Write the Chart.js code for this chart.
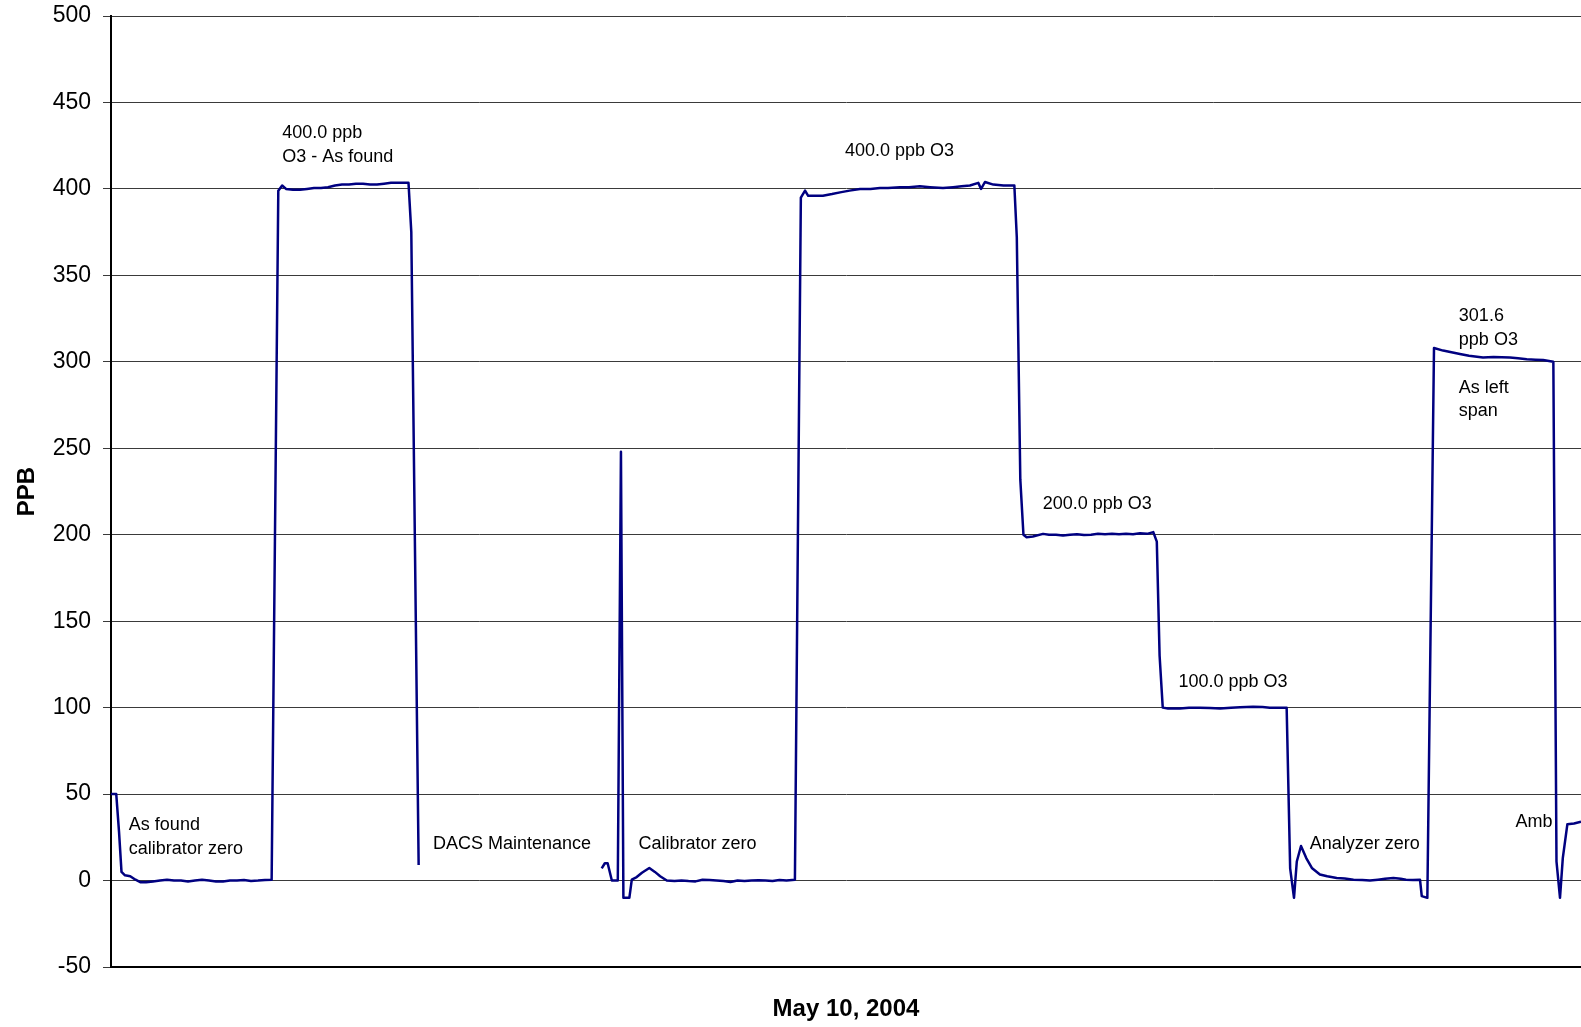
<!DOCTYPE html>
<html>
<head>
<meta charset="utf-8">
<title>PPB - May 10, 2004</title>
<script src="https://cdn.jsdelivr.net/npm/chart.js@4.4.0/dist/chart.umd.min.js"></script>
<style>
  html, body { margin: 0; padding: 0; background: #fff; overflow: hidden; }
  #wrap { width: 1581px; height: 1027px; }
</style>
</head>
<body>
<div id="wrap"><canvas id="myChart" width="1581" height="1027"></canvas></div>
<script>
// Readings from the analyzer, minutes from the start of the plot
const minutes = [
  0, 1.5, 2.3, 3, 4, 5.5, 7, 8.5, 10, 12, 14, 16, 18, 20, 22, 24, 26, 28, 30, 32, 34, 36, 38, 40, 42, 44,
  45.9, 47.8, 48.9, 50, 52, 54, 56, 58, 60, 62, 64, 66, 68, 70, 72, 74, 76, 78, 80, 82, 85, 85.8, 87.9,
  88.5,
  140.2, 141.1, 141.9, 143.1, 144.8, 145.7, 146.4, 148.1, 148.8, 150.2, 151.7, 153.8, 155.4, 156.9, 158.8,
  161, 163, 165, 167, 169, 171, 173, 175, 177, 179, 181, 183, 185, 187, 189, 191, 193,
  195.4, 197.1, 198.3, 199.2, 201, 203.4, 206, 208.3, 211, 214, 217, 219.7, 222, 225.4, 228, 231.1, 234,
  237.7, 240.6, 243, 245.4, 247.8, 248.6, 249.7, 252.1, 255, 258.1, 258.8, 259.8,
  260.7, 261.6, 263.4, 266.3, 268, 270, 272, 274, 276, 278, 280, 282, 284, 286, 288, 290, 292, 294, 296,
  297.8, 298.8, 299.6,
  300.5, 302, 305.4, 308, 311.1, 314, 316.9, 320, 322.6, 326.3, 329, 331.1, 333.5, 335.9,
  336.9, 338, 338.8, 340, 341.5, 343.1, 345.4, 347.5, 350.2, 352.5, 355, 357.5, 359.7, 362, 364, 366.4,
  368.5, 370, 372, 374, 374.5, 376.1,
  378, 380.6, 383, 385.4, 388, 392, 395, 399.7, 402, 404.5, 407, 409.2, 412.1,
  413, 414, 414.8, 416.1, 418, 420
];
const ppb = [
  50, 50, 28, 5, 3, 2.5, 0.5, -1, -1, -0.5, 0, 0.5, 0, 0, -0.5, 0, 0.5, 0, -0.5, -0.5, 0, 0, 0.3, -0.2, 0, 0.3,
  0.5, 399, 402, 400, 399.5, 399.5, 400, 400.5, 400.5, 401, 402, 402.5, 402.5, 403, 403, 402.5, 402.5, 403, 403.5, 403.5, 403.5, 375, 9,
  null,
  7, 10, 10, 0, 0, 248, -10, -10, 0.5, 2, 4.5, 7.3, 5, 2.5, 0,
  -0.3, 0, -0.3, -0.5, 0.5, 0.3, 0, -0.3, -0.8, 0, -0.3, 0, 0.2, 0, -0.2, 0.3, 0,
  0.5, 395, 399, 396, 396, 396, 397, 398, 399, 400, 400, 400.5, 400.5, 401, 401, 401.5, 401,
  400.5, 401, 401.5, 402, 403.5, 400, 404, 402.5, 402, 402, 372, 232,
  200, 198.5, 199, 200.5, 200, 200, 199.5, 200, 200.3, 199.8, 200, 200.5, 200.3, 200.5, 200.3, 200.5, 200.3, 200.8, 200.5,
  201.5, 196, 130,
  100, 99.5, 99.5, 100, 100, 99.8, 99.5, 100, 100.2, 100.5, 100.3, 100, 100, 100,
  7, -10, 11, 20, 13, 7.3, 3.5, 2.5, 1.5, 1.2, 0.5, 0.3, 0, 0.5, 1, 1.5,
  1, 0.5, 0.3, 0.5, -9, -10,
  308, 306.5, 305.5, 304.5, 303.5, 302.5, 302.8, 302.5, 302, 301.5, 301.2, 301, 300,
  11, -10, 13, 32.5, 33, 34
];

// Y axis ticks
const yMin = -50;
const yMax = 500;
const yStep = 50;

// Notes written on the plot: text lines, minute and ppb of the first baseline
const noteText = [
  ['As found', 'calibrator zero'],
  ['400.0 ppb', 'O3 - As found'],
  ['DACS Maintenance'],
  ['Calibrator zero'],
  ['400.0 ppb O3'],
  ['200.0 ppb O3'],
  ['100.0 ppb O3'],
  ['Analyzer zero'],
  ['301.6', 'ppb O3'],
  ['As left', 'span'],
  ['Amb']
];
const noteMinute = [5.1, 48.9, 92, 150.7, 209.7, 266.2, 305, 342.5, 385.1, 385.1, 401.3];
const notePpb = [29.1, 429.3, 18.4, 18.4, 419.3, 215.1, 111.8, 18.4, 323.6, 282.2, 31];

const points = minutes.map((m, i) => ({ x: m, y: ppb[i] }));

const notesPlugin = {
  id: 'notes',
  afterDatasetsDraw(chart) {
    const ctx = chart.ctx;
    const xs = chart.scales.x;
    const ys = chart.scales.y;
    ctx.save();
    ctx.font = '18px "Liberation Sans", Arial, sans-serif';
    ctx.fillStyle = '#000';
    ctx.textAlign = 'left';
    ctx.textBaseline = 'alphabetic';
    noteText.forEach((lines, i) => {
      const px = xs.getPixelForValue(noteMinute[i]);
      const py = ys.getPixelForValue(notePpb[i]);
      lines.forEach((t, j) => ctx.fillText(t, px, py + j * 23.5));
    });
    ctx.restore();
  }
};

const ctx = document.getElementById('myChart').getContext('2d');
const myChart = new Chart(ctx, {
  type: 'line',
  data: {
    datasets: [{
      label: 'O3',
      data: points,
      borderColor: '#000080',
      borderWidth: 2.5,
      borderJoinStyle: 'round',
      pointRadius: 0,
      tension: 0,
      spanGaps: false,
      fill: false
    }]
  },
  options: {
    responsive: false,
    animation: false,
    layout: { padding: { top: 16, right: 0, bottom: 0, left: 0 } },
    plugins: {
      legend: { display: false },
      tooltip: { enabled: false }
    },
    scales: {
      x: {
        type: 'linear',
        min: 0,
        max: 420,
        ticks: { display: false },
        grid: { display: false },
        border: { display: true, color: '#000', width: 2 },
        title: {
          display: true,
          text: 'May 10, 2004',
          color: '#000',
          font: { family: '"Liberation Sans", Arial, sans-serif', size: 24, weight: 'bold' },
          padding: { top: 0, bottom: 3 }
        },
        afterFit(scale) { scale.height = 60; }
      },
      y: {
        min: yMin,
        max: yMax,
        ticks: {
          stepSize: yStep,
          color: '#000',
          padding: 12,
          font: { family: '"Liberation Sans", Arial, sans-serif', size: 23 }
        },
        grid: { color: '#3a3a3a', lineWidth: 1, tickLength: 8 },
        border: { display: true, color: '#000', width: 2 },
        title: {
          display: true,
          text: 'PPB',
          color: '#000',
          font: { family: '"Liberation Sans", Arial, sans-serif', size: 24, weight: 'bold' },
          padding: { top: 13, bottom: 0 }
        },
        afterFit(scale) {
          scale.width = 111;
          scale.paddingTop = 0;
          scale.paddingBottom = 0;
        }
      }
    }
  },
  plugins: [notesPlugin]
});
</script>
</body>
</html>
